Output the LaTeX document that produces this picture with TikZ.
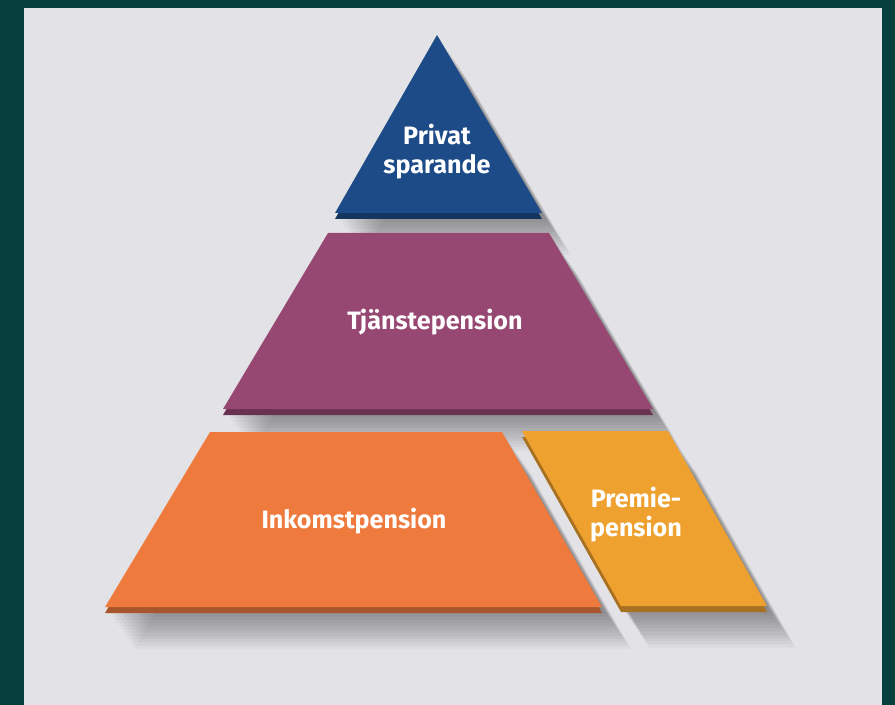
\documentclass[tikz,border=0pt]{standalone}
\usepackage{fontspec}
\setsansfont{Fira Sans}
\usetikzlibrary{positioning}
\definecolor{bakgrund}{HTML}{063F3E}
\definecolor{papper}{HTML}{E3E3E7}
\definecolor{privat}{HTML}{1C4B87}
\definecolor{tjanst}{HTML}{974872}
\definecolor{inkomst}{HTML}{EF7A3D}
\definecolor{premie}{HTML}{EEA12F}
\tikzset{
  skugga/.style={fill=black, opacity=0.035},
  etikett/.style={text=white, align=center,
      font=\sffamily\bfseries\fontsize{14.3}{16.5}\selectfont},
}
% en skiva: skugga, tjocklek (mörk kant) och ovansida
\newcommand\skiva[2]{%
  \foreach \k in {1,...,13}
    \path[skugga, shift={(2.2*\k,3.2*\k)}] #2 -- cycle;
  \fill[#1!70!black, shift={(0,6)}] #2 -- cycle;
  \fill[#1] #2 -- cycle;
}
\begin{document}
\begin{tikzpicture}[x=0.02cm, y=-0.02cm]
  \fill[bakgrund] (0,0) rectangle (895,705);
  \fill[papper] (24,8) rectangle (882,705);
  \useasboundingbox (0,0) rectangle (895,705);
%pyramiden uppifrån och ned
  \skiva{privat}{(437,35) -- (542,213) -- (335,213)}
  \skiva{tjanst}{(328,233) -- (549,233) -- (653,409) -- (223,409)}
  \skiva{inkomst}{(210,432) -- (502,432) -- (602,607) -- (105,607)}
  \skiva{premie}{(522,431) -- (668,431) -- (767,606) -- (621,606)}
%texterna
  \node[etikett] (privattext) at (437,152) {Privat\\sparande};
  \node[etikett] (tjansttext) at (435,322) {Tjänstepension};
  \node[etikett] (inkomsttext) at (354,521) {Inkomstpension};
  \node[etikett] (premietext) at (636,515) {Premie-\\pension};
\end{tikzpicture}
\end{document}
